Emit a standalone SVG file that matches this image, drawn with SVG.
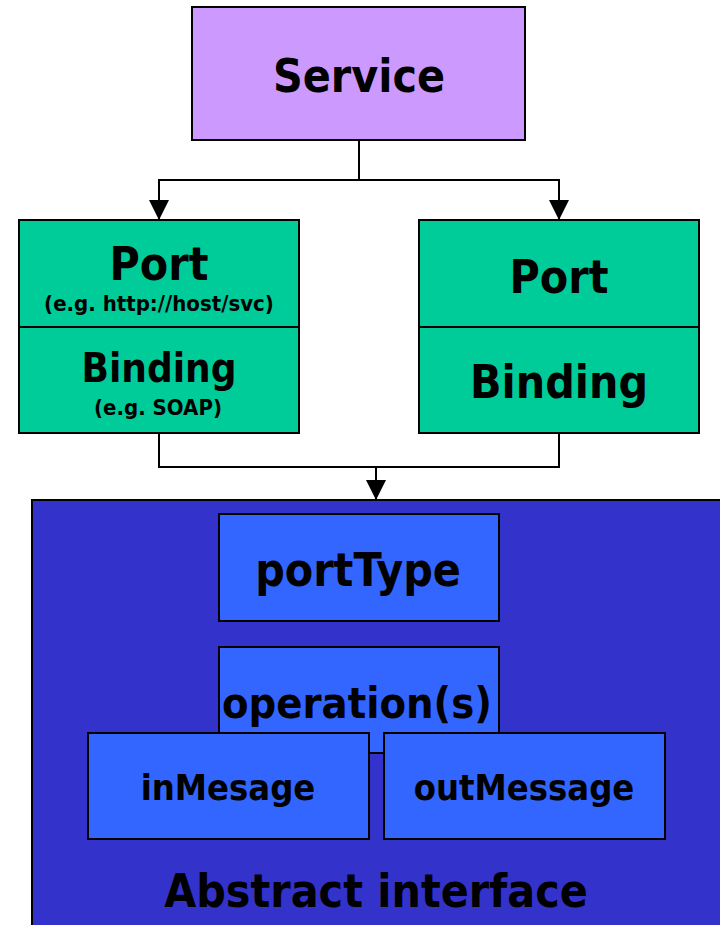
<svg xmlns="http://www.w3.org/2000/svg" width="720" height="925" viewBox="0 0 720 925">
<defs>
<marker id="arr" markerUnits="userSpaceOnUse" markerWidth="20" markerHeight="20" refX="20" refY="10" orient="auto" viewBox="0 0 20 20">
<path d="M0,0 L20,10 L0,20 Z" fill="#000"/>
</marker>
<style>
rect{stroke:#000;stroke-width:2}
.svc{fill:#CC99FF}
.grn{fill:#00CC99}
.abs{fill:#3333CC}
.blu{fill:#3366FF}
text{font-family:"DejaVu Sans Condensed","DejaVu Sans",sans-serif;font-stretch:condensed;font-weight:bold;fill:#000;text-anchor:middle}
.big{font-size:46px}
.mid{font-size:40px}
.msg{font-size:36px}
.sm{font-size:22px}
.con{fill:none;stroke:#000;stroke-width:2}
</style>
</defs>
<g id="service">
<rect class="svc" x="192" y="7" width="333" height="133"/>
<text class="big" x="359" y="92">Service</text>
</g>
<g id="port1">
<rect class="grn" x="19" y="220" width="280" height="107"/>
<text class="big" x="159" y="280">Port</text>
<text class="sm" x="159" y="311">(e.g. http://host/svc)</text>
</g>
<g id="binding1">
<rect class="grn" x="19" y="327" width="280" height="106"/>
<text class="mid" x="159" y="382">Binding</text>
<text class="sm" x="158" y="415">(e.g. SOAP)</text>
</g>
<g id="port2">
<rect class="grn" x="419" y="220" width="280" height="107"/>
<text class="big" x="559" y="293">Port</text>
</g>
<g id="binding2">
<rect class="grn" x="419" y="327" width="280" height="106"/>
<text class="big" x="559" y="398">Binding</text>
</g>
<g id="abstract">
<rect class="abs" x="32" y="500" width="710" height="450"/>
<text class="big" x="376" y="907">Abstract interface</text>
</g>
<g id="porttype">
<rect class="blu" x="219" y="514" width="280" height="107"/>
<text class="big" x="358" y="586">portType</text>
</g>
<g id="operations">
<rect class="blu" x="219" y="647" width="280" height="106"/>
<text class="big" x="357" y="718" style="font-size:43px">operation(s)</text>
</g>
<g id="inmessage">
<rect class="blu" x="88" y="733" width="281" height="106"/>
<text class="msg" x="228" y="800">inMesage</text>
</g>
<g id="outmessage">
<rect class="blu" x="384" y="733" width="281" height="106"/>
<text class="msg" x="524" y="800">outMessage</text>
</g>
<g id="connectors">
<path class="con" d="M359,140 V180 H159 V220" marker-end="url(#arr)"/>
<path class="con" d="M359,180 H559 V220" marker-end="url(#arr)"/>
<path class="con" d="M159,433 V467 H559 V433"/>
<path class="con" d="M376,467 V500" marker-end="url(#arr)"/>
</g>
</svg>
